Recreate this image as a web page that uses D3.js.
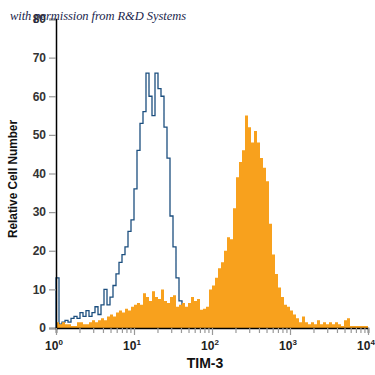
<!DOCTYPE html>
<html>
<head>
<meta charset="utf-8">
<script src="https://cdn.jsdelivr.net/npm/d3@7"></script>
<style>
  body { margin: 0; background: #fff; }
  svg { display: block; }
</style>
</head>
<body>
<svg width="375" height="375"></svg>
<script>
// histogram counts, 104 log-spaced bins from 10^0 to 10^4
const nBins = 104;
const decadeTicks = [1, 10, 100, 1000, 10000];
const decadeExps = ["0", "1", "2", "3", "4"];
const yTicks = [0, 10, 20, 30, 40, 50, 60, 70, 80];

// isotype control (outline)
const isotype = [
  13, 1, 1.5, 2, 1.5, 2.5, 3, 2.5, 4, 3,
  4.5, 3, 4, 5.5, 3.5, 6, 10, 6, 8, 11,
  14, 17, 19, 21, 25, 28, 36, 46, 53, 56,
  66, 60, 55, 66, 62, 60, 52, 44, 29, 21,
  13, 7, 2
];

// TIM-3 stained (filled)
const tim3 = [
  1.5, 1, 1.5, 1, 1, 0.5, 0.5, 1.5, 1.5, 1,
  1, 1.5, 2, 1.5, 2, 2.5, 2, 3, 3.5, 3,
  4, 4.5, 4, 5, 4.5, 5.5, 6, 6.5, 6, 9,
  8, 7, 9.5, 8, 7.5, 10, 7, 6.5, 8, 8.5,
  5.5, 6, 6.5, 5.5, 6.5, 8, 7, 7.5, 4.7, 5,
  5.5, 10, 11, 13, 15.5, 17, 20, 23.5, 23, 31,
  39, 43, 46, 55, 52, 48, 51, 48, 44, 41.5,
  38, 27, 19, 14, 10.5, 8, 6, 5.5, 4.5, 3.5,
  2.5, 1.5, 3, 1.5, 1, 1.5, 1, 2, 1, 1.5,
  1, 1.5, 1, 1.5, 1, 0.5, 2, 2.5, 0.5, 0.5,
  0.5, 0.5, 0.5, 0.5
];

const svg = d3.select("svg");
const font = "'Liberation Sans Narrow', 'Arial Narrow', 'Liberation Sans', Arial, sans-serif";

const x = d3.scaleLog().domain([1, 1e4]).range([56, 368]);
const y = d3.scaleLinear().domain([0, 80]).range([328, 19]);

const edge = i => Math.pow(10, i * 4 / nBins);
const stepPoints = vals => {
  const pts = vals.map((v, i) => [edge(i), v]);
  pts.push([edge(vals.length), vals[vals.length - 1]]);
  return pts;
};

// isotype outline
const bluePts = [[1, 0]].concat(stepPoints(isotype));
bluePts.push([edge(isotype.length), 0]);
svg.append("path")
  .datum(bluePts)
  .attr("fill", "none")
  .attr("stroke", "#1c4f7f")
  .attr("stroke-width", 1.3)
  .attr("d", d3.line().x(d => x(d[0])).y(d => y(d[1])).curve(d3.curveStepAfter));

// TIM-3 filled histogram
svg.append("path")
  .datum(stepPoints(tim3))
  .attr("fill", "#f8a11d")
  .attr("d", d3.area().x(d => x(d[0])).y0(y(0)).y1(d => y(d[1])).curve(d3.curveStepAfter));

// y axis
const yAxis = svg.append("g")
  .attr("transform", "translate(56,0)")
  .call(d3.axisLeft(y).tickValues(yTicks).tickSize(7).tickPadding(3));
yAxis.select(".domain").attr("stroke", "#000").attr("stroke-width", 1.5);
yAxis.selectAll(".tick line").attr("stroke", "#999").attr("stroke-width", 1.2);
yAxis.selectAll(".tick text")
  .attr("fill", "#333")
  .style("font-family", font).style("font-size", "12px").style("font-weight", "bold");

// x axis
const xAxis = svg.append("g")
  .attr("transform", "translate(0,328)")
  .call(d3.axisBottom(x).tickSizeOuter(0).tickSize(5).tickFormat(""));
xAxis.select(".domain").attr("stroke", "#000").attr("stroke-width", 1.5);
xAxis.selectAll(".tick line")
  .attr("stroke", "#999").attr("stroke-width", 1.2)
  .attr("y2", d => decadeTicks.includes(d) ? 7 : 5);

const xl = svg.append("g").style("font-family", font).attr("fill", "#222");
decadeTicks.forEach((d, i) => {
  const t = xl.append("text")
    .attr("x", x(d) - 2)
    .attr("y", 350)
    .attr("text-anchor", "middle")
    .style("font-size", "12px").style("font-weight", "bold");
  t.append("tspan").text("10");
  t.append("tspan").attr("dy", -5).style("font-size", "8px").text(decadeExps[i]);
});

// axis titles
svg.append("text")
  .attr("x", 205).attr("y", 368)
  .attr("text-anchor", "middle")
  .style("font-family", font).style("font-size", "14px").style("font-weight", "bold")
  .attr("fill", "#111")
  .text("TIM-3");

svg.append("text")
  .attr("transform", "translate(17,179) rotate(-90)")
  .attr("text-anchor", "middle")
  .attr("textLength", 118)
  .attr("lengthAdjust", "spacingAndGlyphs")
  .style("font-family", font).style("font-size", "13px").style("font-weight", "bold")
  .attr("fill", "#111")
  .text("Relative Cell Number");

// watermark
svg.append("text")
  .attr("x", 10).attr("y", 20)
  .attr("textLength", 176)
  .style("font-family", "'Liberation Serif', 'DejaVu Serif', serif")
  .style("font-style", "italic").style("font-size", "12.5px")
  .attr("fill", "#1a1f4d")
  .text("with permission from R&D Systems");
</script>
</body>
</html>
